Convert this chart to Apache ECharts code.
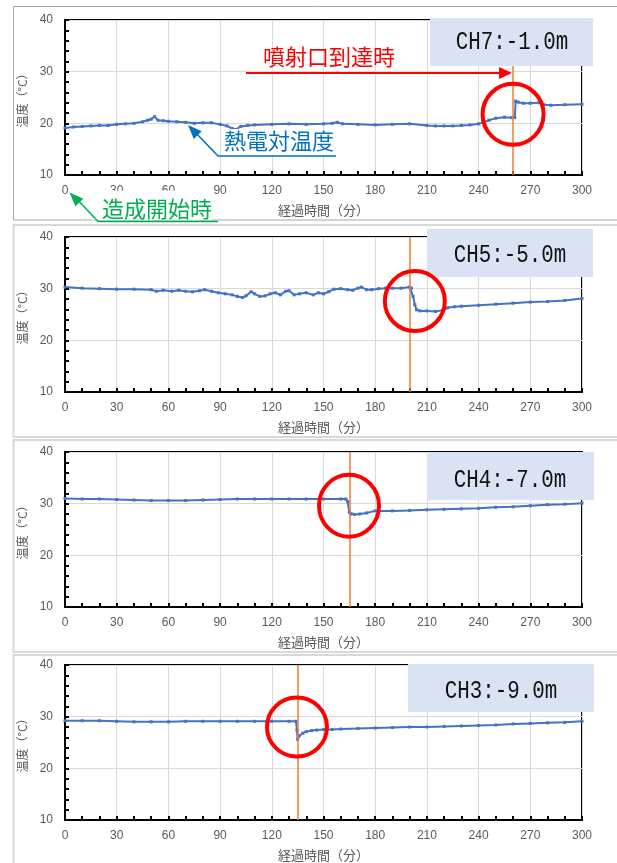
<!DOCTYPE html>
<html>
<head>
<meta charset="utf-8">
<script src="https://cdn.jsdelivr.net/npm/echarts@6/dist/echarts.min.js"></script>
<style>
  html, body { margin: 0; padding: 0; background: #fff; }
  #chart { width: 617px; height: 863px; }
</style>
</head>
<body>
<div id="chart"></div>
<script>
// Thermocouple temperature logs (elapsed minutes / °C) for four channels
const xTickValues = [0, 30, 60, 90, 120, 150, 180, 210, 240, 270, 300];
const yTickValues = [10, 20, 30, 40];

const channelLabels = ['CH7:-1.0m', 'CH5:-5.0m', 'CH4:-7.0m', 'CH3:-9.0m'];
const arrivalTimes = [260, 200, 165, 135];

const ch7Time = [0, 5, 10, 15, 20, 25, 30, 35, 40, 45, 48, 50, 52, 54, 57, 60, 65, 70, 75, 80, 85, 90, 94, 97, 99, 102, 106, 110, 120, 130, 140, 150, 155, 158, 161, 170, 180, 190, 200, 210, 215, 220, 225, 230, 235, 240, 243, 246, 250, 255, 259, 261, 261.5, 263, 266, 270, 275, 278, 282, 290, 300];
const ch7Temp = [19.1, 19.3, 19.4, 19.5, 19.6, 19.6, 19.8, 19.9, 20.0, 20.3, 20.6, 20.8, 21.3, 20.6, 20.5, 20.4, 20.3, 20.2, 20.0, 20.1, 20.1, 19.8, 19.5, 19.0, 18.8, 19.4, 19.6, 19.7, 19.8, 19.9, 19.8, 19.9, 20.0, 20.2, 19.9, 19.8, 19.7, 19.8, 19.9, 19.6, 19.5, 19.5, 19.5, 19.6, 19.7, 19.9, 20.2, 20.6, 21.0, 21.2, 21.1, 21.1, 24.3, 24.1, 23.9, 23.9, 24.0, 23.6, 23.5, 23.6, 23.7];

const ch5Time = [0, 10, 20, 30, 40, 50, 53, 57, 62, 66, 70, 74, 78, 81, 85, 89, 93, 97, 100, 103, 105, 108, 110, 113, 116, 119, 122, 125, 128, 130, 133, 136, 140, 144, 147, 150, 153, 156, 160, 164, 167, 170, 172, 175, 178, 182, 186, 190, 195, 200, 201, 202, 203, 204, 206, 210, 215, 219, 222, 226, 230, 240, 250, 260, 270, 280, 290, 300];
const ch5Temp = [30.3, 30.1, 30.0, 29.9, 29.9, 29.8, 29.5, 29.7, 29.5, 29.7, 29.5, 29.4, 29.6, 29.8, 29.5, 29.2, 29.0, 28.8, 28.5, 28.3, 28.6, 29.4, 29.0, 28.5, 28.6, 29.0, 29.2, 28.8, 29.5, 29.6, 28.8, 29.0, 29.2, 28.8, 29.2, 29.0, 29.4, 29.9, 30.0, 29.8, 29.7, 30.1, 30.3, 29.8, 29.8, 30.0, 30.1, 30.1, 30.1, 30.3, 30.1, 28.5, 26.9, 25.9, 25.7, 25.7, 25.6, 25.8, 26.3, 26.5, 26.6, 26.8, 27.0, 27.2, 27.4, 27.5, 27.7, 28.1];

const ch4Time = [0, 10, 20, 30, 40, 50, 60, 70, 80, 90, 100, 110, 120, 130, 140, 150, 160, 163, 164, 165, 166, 168, 171, 175, 180, 190, 200, 210, 220, 230, 240, 250, 260, 270, 280, 290, 300];
const ch4Temp = [31.0, 30.9, 30.9, 30.8, 30.7, 30.6, 30.6, 30.6, 30.7, 30.8, 30.9, 30.9, 30.9, 30.9, 30.9, 30.9, 30.9, 30.9, 30.4, 28.3, 28.0, 27.9, 28.0, 28.2, 28.6, 28.6, 28.7, 28.8, 28.9, 29.0, 29.1, 29.3, 29.4, 29.6, 29.8, 29.9, 30.1];

const ch3Time = [0, 10, 20, 30, 40, 50, 60, 70, 80, 90, 100, 110, 120, 130, 134, 134.6, 135, 136, 138, 140, 143, 146, 150, 155, 160, 170, 180, 190, 200, 210, 220, 230, 240, 250, 260, 270, 280, 290, 300];
const ch3Temp = [29.2, 29.2, 29.2, 29.1, 29.0, 29.0, 29.0, 29.1, 29.1, 29.1, 29.1, 29.1, 29.1, 29.1, 29.1, 27.4, 25.6, 26.3, 26.8, 27.1, 27.3, 27.4, 27.5, 27.5, 27.6, 27.7, 27.8, 27.9, 28.0, 28.0, 28.1, 28.2, 28.3, 28.4, 28.6, 28.7, 28.8, 28.9, 29.1];

// red ring around the arrival jump: [minutes, °C] centre per channel
const ringCentres = [[260, 21.75], [203, 27.6], [164.8, 29.6], [134.6, 28.0]];

const seriesTimes = [ch7Time, ch5Time, ch4Time, ch3Time];
const seriesTemps = [ch7Temp, ch5Temp, ch4Temp, ch3Temp];

const gridTops = [20, 237, 452, 665];
const GRID_LEFT = 65, GRID_W = 517, GRID_H = 155;
const LABEL_FONT = 'Liberation Sans, Arial, sans-serif';
const JP_FONT = '"Noto Sans CJK JP", sans-serif';
const GREY = '#595959';

const chart = echarts.init(document.getElementById('chart'), null, { renderer: 'canvas' });

const grids = [], xAxes = [], yAxes = [], series = [];
gridTops.forEach((top, i) => {
  grids.push({
    left: GRID_LEFT, top: top, width: GRID_W, height: GRID_H,
    show: true, borderColor: '#000', borderWidth: 2, backgroundColor: 'transparent'
  });
  xAxes.push({
    gridIndex: i, type: 'value',
    min: xTickValues[0], max: xTickValues[xTickValues.length - 1],
    interval: xTickValues[1] - xTickValues[0],
    axisLine: { show: true, lineStyle: { color: '#000', width: 2 } },
    axisTick: { show: true, inside: true, length: 4, lineStyle: { color: '#000', width: 2 } },
    minorTick: { show: true, splitNumber: 3, length: 4, lineStyle: { color: '#000', width: 2 } },
    axisLabel: { margin: 10, color: GREY, fontSize: 12, fontFamily: LABEL_FONT },
    splitLine: { show: true, lineStyle: { color: '#d9d9d9', width: 1 } },
    name: '経過時間（分）', nameLocation: 'middle', nameGap: 29,
    nameTextStyle: { color: GREY, fontSize: 13, fontFamily: JP_FONT }
  });
  yAxes.push({
    gridIndex: i, type: 'value',
    min: yTickValues[0], max: yTickValues[yTickValues.length - 1],
    interval: yTickValues[1] - yTickValues[0],
    axisLine: { show: true, lineStyle: { color: '#000', width: 2 } },
    axisTick: { show: true, inside: true, length: 4, lineStyle: { color: '#000', width: 2 } },
    minorTick: { show: true, splitNumber: 5, length: 4, lineStyle: { color: '#000', width: 2 } },
    axisLabel: { margin: 12, color: GREY, fontSize: 12, fontFamily: LABEL_FONT },
    splitLine: { show: true, lineStyle: { color: '#d9d9d9', width: 1 } },
    name: '温度（°C）', nameLocation: 'middle', nameGap: 35, nameRotate: 90,
    nameTextStyle: { color: GREY, fontSize: 12, fontFamily: JP_FONT }
  });
  series.push({
    type: 'line', xAxisIndex: i, yAxisIndex: i,
    data: seriesTimes[i].map((t, k) => [t, seriesTemps[i][k]]),
    symbol: 'rect', symbolSize: 3, showSymbol: true,
    lineStyle: { color: '#4472c4', width: 2 },
    itemStyle: { color: '#4472c4' },
    z: 3,
    markLine: {
      silent: true, symbol: 'none', label: { show: false },
      lineStyle: { color: '#ed7d31', width: 1.5, type: 'solid' },
      data: [{ xAxis: arrivalTimes[i] }]
    }
  });
});

chart.setOption({
  animation: false,
  backgroundColor: '#fff',
  grid: grids, xAxis: xAxes, yAxis: yAxes, series: series
});

// ---- annotations ----
function arrowHead(tip, from, len, half, color) {
  const dx = tip[0] - from[0], dy = tip[1] - from[1];
  const d = Math.hypot(dx, dy), ux = dx / d, uy = dy / d;
  const bx = tip[0] - ux * len, by = tip[1] - uy * len;
  return {
    type: 'polygon', z: 60,
    shape: { points: [tip, [bx - uy * half, by + ux * half], [bx + uy * half, by - ux * half]] },
    style: { fill: color }
  };
}
function seg(points, color, w) {
  return { type: 'polyline', z: 60, shape: { points: points }, style: { stroke: color, lineWidth: w, fill: null } };
}
function label(text, x, y, color, size) {
  return {
    type: 'text', z: 61, x: x, y: y,
    style: { text: text, fill: color, font: size + 'px ' + JP_FONT, textAlign: 'center', textVerticalAlign: 'middle' }
  };
}

const g = [];
// panel frames
[[6.5, 213.5, '#a6a6a6', 1], [225, 212, '#d9d9d9', 2], [440, 212, '#d9d9d9', 2], [655, 260, '#d9d9d9', 2]]
  .forEach(p => g.push({ type: 'rect', z: 0, shape: { x: 13.5, y: p[0], width: 640, height: p[1] },
    style: { fill: null, stroke: p[2], lineWidth: p[3] } }));

// channel boxes
const boxes = [[430, 18, 163, 48, 512, 42], [427, 229, 166, 48, 510, 255], [427, 452, 167, 48, 510, 480], [408, 664, 186, 48, 501, 691]];
boxes.forEach((b, i) => {
  g.push({ type: 'rect', z: 50, shape: { x: b[0], y: b[1], width: b[2], height: b[3] }, style: { fill: '#dae3f3' } });
  g.push({ type: 'text', z: 51, x: b[4], y: b[5], scaleX: 0.8,
    style: { text: channelLabels[i], fill: '#111', font: '26px "Liberation Mono", "DejaVu Sans Mono", monospace',
      textAlign: 'center', textVerticalAlign: 'middle' } });
});

// rings
const ringR = [[30.5, 30.5], [30, 30], [30, 31], [30, 29.5]];
ringCentres.forEach((c, i) => {
  const p = chart.convertToPixel({ gridIndex: i }, c);
  g.push({ type: 'ellipse', z: 55, shape: { cx: p[0], cy: p[1], rx: ringR[i][0], ry: ringR[i][1] },
    style: { fill: null, stroke: '#ff0000', lineWidth: 4 } });
});

// 噴射口到達時 arrow (points at the CH7 arrival line)
const tipRed = chart.convertToPixel({ gridIndex: 0 }, [arrivalTimes[0], 0]);
const redY = 73;
g.push(seg([[246, redY], [tipRed[0] - 8, redY]], '#ff0000', 2));
g.push(arrowHead([tipRed[0] - 1, redY], [246, redY], 13, 6, '#ff0000'));
g.push(label('噴射口到達時', 329, 57, '#ff0000', 22));

// 熱電対温度 callout
g.push({ type: 'rect', z: 58, shape: { x: 222, y: 129, width: 118, height: 26 }, style: { fill: '#fff' } });
g.push(seg([[336, 156], [218, 156], [194, 131]], '#0070c0', 1.5));
g.push(arrowHead([188, 125], [218, 156], 14, 5.5, '#0070c0'));
g.push(label('熱電対温度', 279, 141, '#0070c0', 22));

// 造成開始時 callout (its white box clips the 30 / 60 tick labels)
g.push({ type: 'rect', z: 58, shape: { x: 92, y: 190.5, width: 120, height: 29.5 }, style: { fill: '#fff' } });
g.push(seg([[218, 221.5], [98, 221.5], [76, 198]], '#00b050', 1.5));
g.push(arrowHead([69.5, 192.5], [98, 221.5], 14, 5.5, '#00b050'));
g.push(label('造成開始時', 157, 209, '#00b050', 22));

chart.setOption({ graphic: { elements: g } });
</script>
</body>
</html>
